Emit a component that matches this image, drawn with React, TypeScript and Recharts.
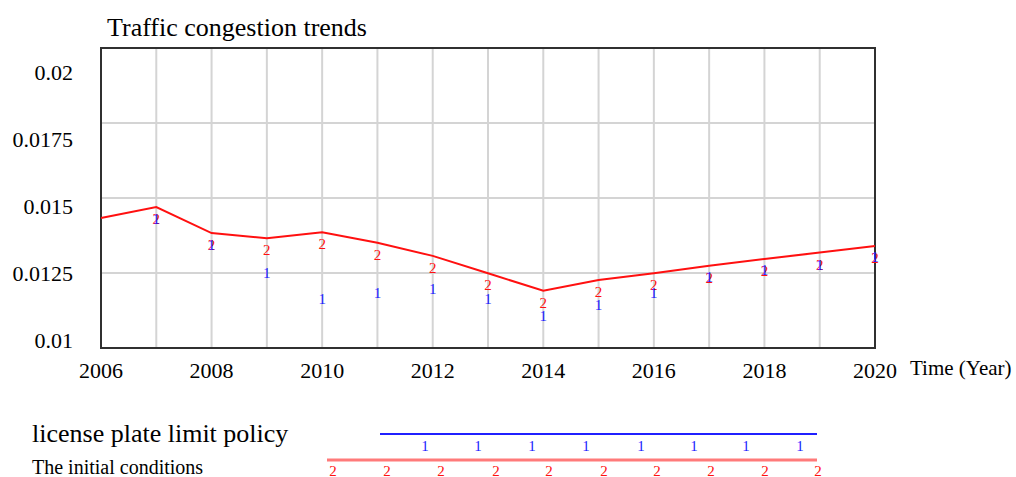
import { LineChart, Line, XAxis, YAxis, CartesianGrid, ReferenceArea } from "recharts"

// simulation years and the two runs
const years = [2006, 2007, 2008, 2009, 2010, 2011, 2012, 2013, 2014, 2015, 2016, 2017, 2018, 2019, 2020]
const initialConditions = [
    0.01433, 0.0147, 0.01383, 0.01366, 0.01386, 0.01351, 0.01307, 0.01249, 0.01191, 0.01227, 0.01249,
    0.01274, 0.01297, 0.01318, 0.0134
]
const plateLimitPolicy = [
    0.01433, 0.0147, 0.01383, 0.0129, 0.01204, 0.01224, 0.01238, 0.01205, 0.01146, 0.01185, 0.01222,
    0.01277, 0.01299, 0.01318, 0.01344
]

const yTicks = [0.01, 0.0125, 0.015, 0.0175, 0.02]
const yTickLabels = ["0.01", "0.0125", "0.015", "0.0175", "0.02"]
const xLabelYears = [2006, 2008, 2010, 2012, 2014, 2016, 2018, 2020]

const title = "Traffic congestion trends"
const xAxisCaption = "Time (Year)"
const policyName = "license plate limit policy"
const initialName = "The initial conditions"

const FONT = "'Liberation Serif', 'DejaVu Serif', serif"
const BLUE = "#2020ff"
const RED = "#ff1010"

const data = years.map((year, i) => ({
    year,
    initial: initialConditions[i],
    policy: plateLimitPolicy[i]
}))

// Vensim style: number glyph drawn just under the data point
function runMark(label: string, color: string) {
    return (p: any) => {
        if (p.index === 0 || p.cx == null) return <g key={`m-${label}-${p.index}`} />
        return (
            <text
                key={`m-${label}-${p.index}`}
                x={p.cx}
                y={p.cy + 17}
                textAnchor="middle"
                fontFamily={FONT}
                fontSize={15}
                fill={color}
            >
                {label}
            </text>
        )
    }
}

function YTick(p: any) {
    const i = yTicks.indexOf(p.payload.value)
    // labels are spread a bit tighter than the grid, like the original
    const ly = 340 + (p.y - 348) * 0.893
    return (
        <text x={p.x - 28} y={ly + 8} textAnchor="end" fontFamily={FONT} fontSize={22} fill="#000">
            {yTickLabels[i]}
        </text>
    )
}

function XTick(p: any) {
    if (!xLabelYears.includes(p.payload.value)) return <g />
    return (
        <text x={p.x} y={p.y + 30} textAnchor="middle" fontFamily={FONT} fontSize={22} fill="#000">
            {p.payload.value}
        </text>
    )
}

const legendPolicyMarks = [425, 478, 532, 586, 641, 694, 746, 800]
const legendInitialMarks = [333, 387, 441, 496, 549, 604, 657, 711, 765, 818]

export default function App() {
    return (
        <div style={{ position: "absolute", left: 0, top: 0, width: 1016, height: 477, background: "#fff" }}>
            <LineChart
                width={1016}
                height={420}
                data={data}
                margin={{ top: 48, right: 141, left: 41, bottom: 42 }}
            >
                <CartesianGrid stroke="#d4d4d4" strokeWidth={2} />
                <XAxis
                    dataKey="year"
                    type="number"
                    domain={[2006, 2020]}
                    ticks={years}
                    height={30}
                    tickSize={0}
                    tickMargin={0}
                    axisLine={false}
                    tick={<XTick />}
                    interval={0}
                />
                <YAxis
                    type="number"
                    domain={[0.01, 0.02]}
                    ticks={yTicks}
                    width={60}
                    tickSize={0}
                    tickMargin={0}
                    axisLine={false}
                    tick={<YTick />}
                    interval={0}
                />
                <ReferenceArea
                    x1={2006}
                    x2={2020}
                    y1={0.01}
                    y2={0.02}
                    fill="none"
                    fillOpacity={0}
                    stroke="#303030"
                    strokeWidth={2}
                />
                <Line
                    dataKey="initial"
                    stroke={RED}
                    strokeWidth={2}
                    dot={runMark("2", RED)}
                    activeDot={false}
                    isAnimationActive={false}
                />
                <Line
                    dataKey="policy"
                    stroke="none"
                    dot={runMark("1", BLUE)}
                    activeDot={false}
                    isAnimationActive={false}
                />
            </LineChart>
            <svg
                width={1016}
                height={477}
                style={{ position: "absolute", left: 0, top: 0, pointerEvents: "none" }}
            >
                <text x={107} y={36} fontFamily={FONT} fontSize={26} fill="#000">
                    {title}
                </text>
                <text x={910} y={375} fontFamily={FONT} fontSize={21} fill="#000">
                    {xAxisCaption}
                </text>
                <text x={32} y={442} fontFamily={FONT} fontSize={26} fill="#000">
                    {policyName}
                </text>
                <line x1={380} x2={817} y1={434} y2={434} stroke={BLUE} strokeWidth={2} />
                {legendPolicyMarks.map((x) => (
                    <text key={x} x={x} y={451} textAnchor="middle" fontFamily={FONT} fontSize={15} fill={BLUE}>
                        1
                    </text>
                ))}
                <text x={32} y={474} fontFamily={FONT} fontSize={20} fill="#000">
                    {initialName}
                </text>
                <line x1={327} x2={817} y1={460} y2={460} stroke="#ff7a7a" strokeWidth={3} />
                {legendInitialMarks.map((x) => (
                    <text key={x} x={x} y={476} textAnchor="middle" fontFamily={FONT} fontSize={15} fill={RED}>
                        2
                    </text>
                ))}
            </svg>
        </div>
    )
}
